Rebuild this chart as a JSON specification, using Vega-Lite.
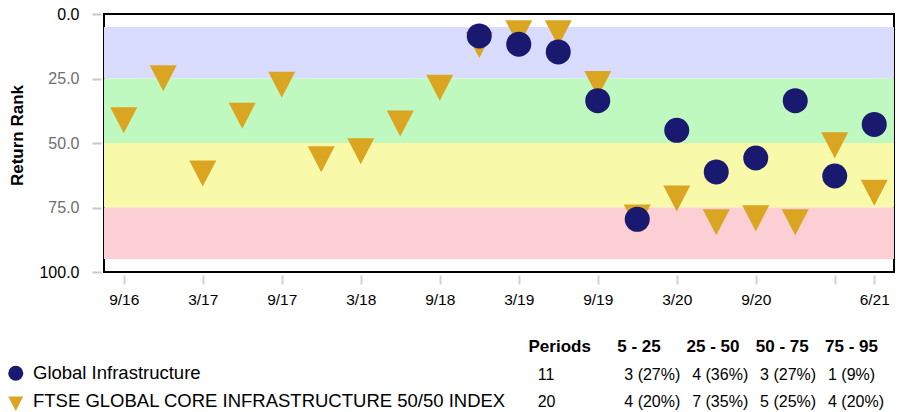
{
  "$schema": "https://vega.github.io/schema/vega-lite/v6.json",
  "width": 790,
  "height": 258,
  "autosize": {"type": "none"},
  "padding": {"left": 104, "top": 14, "right": 4, "bottom": 140},
  "background": "white",
  "config": {
    "font": "Liberation Sans",
    "view": {"stroke": "#000000", "strokeWidth": 2}
  },
  "datasets": {
    "bands": [
      {"band": "5 - 25", "lo": 5, "hi": 25},
      {"band": "25 - 50", "lo": 25, "hi": 50},
      {"band": "50 - 75", "lo": 50, "hi": 75},
      {"band": "75 - 95", "lo": 75, "hi": 95}
    ],
    "ranks": [
      {"series": "FTSE GLOBAL CORE INFRASTRUCTURE 50/50 INDEX", "quarter": "9/16", "rank": 39.5},
      {"series": "FTSE GLOBAL CORE INFRASTRUCTURE 50/50 INDEX", "quarter": "12/16", "rank": 23.2},
      {"series": "FTSE GLOBAL CORE INFRASTRUCTURE 50/50 INDEX", "quarter": "3/17", "rank": 60.1},
      {"series": "FTSE GLOBAL CORE INFRASTRUCTURE 50/50 INDEX", "quarter": "6/17", "rank": 37.8},
      {"series": "FTSE GLOBAL CORE INFRASTRUCTURE 50/50 INDEX", "quarter": "9/17", "rank": 25.7},
      {"series": "FTSE GLOBAL CORE INFRASTRUCTURE 50/50 INDEX", "quarter": "12/17", "rank": 54.6},
      {"series": "FTSE GLOBAL CORE INFRASTRUCTURE 50/50 INDEX", "quarter": "3/18", "rank": 51.5},
      {"series": "FTSE GLOBAL CORE INFRASTRUCTURE 50/50 INDEX", "quarter": "6/18", "rank": 40.8},
      {"series": "FTSE GLOBAL CORE INFRASTRUCTURE 50/50 INDEX", "quarter": "9/18", "rank": 26.9},
      {"series": "FTSE GLOBAL CORE INFRASTRUCTURE 50/50 INDEX", "quarter": "12/18", "rank": 10.3},
      {"series": "FTSE GLOBAL CORE INFRASTRUCTURE 50/50 INDEX", "quarter": "3/19", "rank": 5.8},
      {"series": "FTSE GLOBAL CORE INFRASTRUCTURE 50/50 INDEX", "quarter": "6/19", "rank": 5.8},
      {"series": "FTSE GLOBAL CORE INFRASTRUCTURE 50/50 INDEX", "quarter": "9/19", "rank": 25.5},
      {"series": "FTSE GLOBAL CORE INFRASTRUCTURE 50/50 INDEX", "quarter": "12/19", "rank": 77.2},
      {"series": "FTSE GLOBAL CORE INFRASTRUCTURE 50/50 INDEX", "quarter": "3/20", "rank": 69.8},
      {"series": "FTSE GLOBAL CORE INFRASTRUCTURE 50/50 INDEX", "quarter": "6/20", "rank": 79.0},
      {"series": "FTSE GLOBAL CORE INFRASTRUCTURE 50/50 INDEX", "quarter": "9/20", "rank": 77.5},
      {"series": "FTSE GLOBAL CORE INFRASTRUCTURE 50/50 INDEX", "quarter": "12/20", "rank": 79.0},
      {"series": "FTSE GLOBAL CORE INFRASTRUCTURE 50/50 INDEX", "quarter": "3/21", "rank": 49.2},
      {"series": "FTSE GLOBAL CORE INFRASTRUCTURE 50/50 INDEX", "quarter": "6/21", "rank": 67.6},
      {"series": "Global Infrastructure", "quarter": "12/18", "rank": 8.5},
      {"series": "Global Infrastructure", "quarter": "3/19", "rank": 11.7},
      {"series": "Global Infrastructure", "quarter": "6/19", "rank": 14.7},
      {"series": "Global Infrastructure", "quarter": "9/19", "rank": 33.6},
      {"series": "Global Infrastructure", "quarter": "12/19", "rank": 79.6},
      {"series": "Global Infrastructure", "quarter": "3/20", "rank": 45.1},
      {"series": "Global Infrastructure", "quarter": "6/20", "rank": 61.2},
      {"series": "Global Infrastructure", "quarter": "9/20", "rank": 55.8},
      {"series": "Global Infrastructure", "quarter": "12/20", "rank": 33.6},
      {"series": "Global Infrastructure", "quarter": "3/21", "rank": 62.8},
      {"series": "Global Infrastructure", "quarter": "6/21", "rank": 42.8}
    ],
    "headers": [
      {"row": "header", "col": "Periods", "text": "Periods"},
      {"row": "header", "col": "5 - 25", "text": "5 - 25"},
      {"row": "header", "col": "25 - 50", "text": "25 - 50"},
      {"row": "header", "col": "50 - 75", "text": "50 - 75"},
      {"row": "header", "col": "75 - 95", "text": "75 - 95"}
    ],
    "cells": [
      {"row": "Global Infrastructure", "col": "Periods", "text": "11"},
      {"row": "Global Infrastructure", "col": "5 - 25", "text": "3 (27%)"},
      {"row": "Global Infrastructure", "col": "25 - 50", "text": "4 (36%)"},
      {"row": "Global Infrastructure", "col": "50 - 75", "text": "3 (27%)"},
      {"row": "Global Infrastructure", "col": "75 - 95", "text": "1 (9%)"},
      {"row": "FTSE GLOBAL CORE INFRASTRUCTURE 50/50 INDEX", "col": "Periods", "text": "20"},
      {"row": "FTSE GLOBAL CORE INFRASTRUCTURE 50/50 INDEX", "col": "5 - 25", "text": "4 (20%)"},
      {"row": "FTSE GLOBAL CORE INFRASTRUCTURE 50/50 INDEX", "col": "25 - 50", "text": "7 (35%)"},
      {"row": "FTSE GLOBAL CORE INFRASTRUCTURE 50/50 INDEX", "col": "50 - 75", "text": "5 (25%)"},
      {"row": "FTSE GLOBAL CORE INFRASTRUCTURE 50/50 INDEX", "col": "75 - 95", "text": "4 (20%)"}
    ]
  },
  "layer": [
    {
      "layer": [
        {
          "data": {"name": "bands"},
          "mark": {"type": "rect"},
          "encoding": {
            "y": {
              "field": "lo", "type": "quantitative", "title": "Return Rank",
              "scale": {"domain": [0, 100], "reverse": true, "nice": false, "zero": false},
              "axis": {
                "values": [0, 25, 50, 75, 100],
                "format": ".1f",
                "labelFontSize": 16,
                "labelColor": {"condition": {"test": "datum.value == 0 || datum.value == 100", "value": "#000000"}, "value": "#6e6e6e"},
                "ticks": true,
                "tickColor": "#c8c8c8",
                "tickWidth": 2,
                "tickSize": 9,
                "offset": 3,
                "labelPadding": 13,
                "domain": false,
                "grid": false,
                "titleFontSize": 17,
                "titleFontWeight": "bold",
                "titleColor": "#000000",
                "titlePadding": 12,
                "titleY": 121
              }
            },
            "y2": {"field": "hi"},
            "fill": {
              "field": "band", "type": "nominal",
              "scale": {"domain": ["5 - 25", "25 - 50", "50 - 75", "75 - 95"], "range": ["#d9dcff", "#bff9bf", "#f9f9aa", "#fbcfd3"]},
              "legend": null
            }
          }
        },
        {
          "data": {"name": "ranks"},
          "transform": [{"filter": "datum.series != 'Global Infrastructure'"}],
          "mark": {"type": "point", "filled": true, "opacity": 1, "strokeWidth": 0, "size": 729},
          "encoding": {
            "x": {
              "field": "quarter", "type": "ordinal",
              "scale": {"type": "point", "padding": 0.5, "domain": ["9/16", "12/16", "3/17", "6/17", "9/17", "12/17", "3/18", "6/18", "9/18", "12/18", "3/19", "6/19", "9/19", "12/19", "3/20", "6/20", "9/20", "12/20", "3/21", "6/21"]},
              "axis": {
                "title": null,
                "values": ["9/16", "3/17", "9/17", "3/18", "9/18", "3/19", "9/19", "3/20", "9/20", "3/21", "6/21"],
                "labelExpr": "datum.value == '3/21' ? '' : datum.value",
                "labelAngle": 0,
                "labelFontSize": 15.5,
                "labelColor": "#000000",
                "labelPadding": 8,
                "tickSize": 9,
                "tickWidth": 2,
                "tickColor": "#d0d0d0",
                "offset": 3,
                "domain": false,
                "grid": false
              }
            },
            "y": {
              "field": "rank", "type": "quantitative", "title": "Return Rank",
              "scale": {"domain": [0, 100], "reverse": true, "nice": false, "zero": false}
            },
            "color": {
              "field": "series", "type": "nominal",
              "scale": {"domain": ["Global Infrastructure", "FTSE GLOBAL CORE INFRASTRUCTURE 50/50 INDEX"], "range": ["#191970", "#daa520"]},
              "legend": {
                "title": null,
                "orient": "none",
                "legendX": -97.5,
                "legendY": 350,
                "direction": "vertical",
                "labelFontSize": 18.5,
                "labelColor": "#000000",
                "labelLimit": 700,
                "labelOffset": 8,
                "symbolSize": 225,
                "symbolStrokeWidth": 0,
                "symbolOpacity": 1,
                "rowPadding": 9,
                "padding": 0
              }
            },
            "shape": {
              "field": "series", "type": "nominal",
              "scale": {"domain": ["Global Infrastructure", "FTSE GLOBAL CORE INFRASTRUCTURE 50/50 INDEX"], "range": ["circle", "M-1,-0.642L1,-0.642L0,1.284Z"]}
            }
          }
        },
        {
          "data": {"name": "ranks"},
          "transform": [{"filter": "datum.series == 'Global Infrastructure'"}],
          "mark": {"type": "point", "filled": true, "opacity": 1, "strokeWidth": 0, "size": 625},
          "encoding": {
            "x": {
              "field": "quarter", "type": "ordinal",
              "scale": {"type": "point", "padding": 0.5, "domain": ["9/16", "12/16", "3/17", "6/17", "9/17", "12/17", "3/18", "6/18", "9/18", "12/18", "3/19", "6/19", "9/19", "12/19", "3/20", "6/20", "9/20", "12/20", "3/21", "6/21"]}
            },
            "y": {
              "field": "rank", "type": "quantitative", "title": "Return Rank",
              "scale": {"domain": [0, 100], "reverse": true, "nice": false, "zero": false}
            },
            "color": {
              "field": "series", "type": "nominal",
              "scale": {"domain": ["Global Infrastructure", "FTSE GLOBAL CORE INFRASTRUCTURE 50/50 INDEX"], "range": ["#191970", "#daa520"]}
            },
            "shape": {
              "field": "series", "type": "nominal",
              "scale": {"domain": ["Global Infrastructure", "FTSE GLOBAL CORE INFRASTRUCTURE 50/50 INDEX"], "range": ["circle", "M-1,-0.642L1,-0.642L0,1.284Z"]}
            }
          }
        }
      ]
    },
    {
      "layer": [
        {
          "data": {"name": "headers"},
          "transform": [{"filter": "datum.col == 'Periods'"}],
          "mark": {"type": "text", "align": "left", "baseline": "alphabetic", "fontSize": 17, "fontWeight": "bold", "color": "#000000"},
          "encoding": {
            "x": {"field": "col", "type": "nominal", "scale": {"type": "point", "domain": ["Periods"], "range": [424.5, 424.5], "padding": 0}, "axis": null},
            "y": {"field": "row", "type": "nominal", "scale": {"type": "point", "domain": ["header", "Global Infrastructure", "FTSE GLOBAL CORE INFRASTRUCTURE 50/50 INDEX"], "range": [338, 393], "padding": 0}, "axis": null},
            "text": {"field": "text"}
          }
        },
        {
          "data": {"name": "headers"},
          "transform": [{"filter": "datum.col != 'Periods'"}],
          "mark": {"type": "text", "align": "left", "baseline": "alphabetic", "fontSize": 17, "fontWeight": "bold", "color": "#000000"},
          "encoding": {
            "x": {"field": "col", "type": "nominal", "scale": {"type": "point", "domain": ["5 - 25", "25 - 50", "50 - 75", "75 - 95"], "range": [513.3, 721], "padding": 0}, "axis": null},
            "y": {"field": "row", "type": "nominal", "scale": {"type": "point", "domain": ["header", "Global Infrastructure", "FTSE GLOBAL CORE INFRASTRUCTURE 50/50 INDEX"], "range": [338, 393], "padding": 0}, "axis": null},
            "text": {"field": "text"}
          }
        },
        {
          "data": {"name": "cells"},
          "transform": [{"filter": "datum.col == 'Periods'"}],
          "mark": {"type": "text", "align": "left", "baseline": "alphabetic", "fontSize": 16, "color": "#000000"},
          "encoding": {
            "x": {"field": "col", "type": "nominal", "scale": {"type": "point", "domain": ["Periods"], "range": [433.7, 433.7], "padding": 0}, "axis": null},
            "y": {"field": "row", "type": "nominal", "scale": {"type": "point", "domain": ["header", "Global Infrastructure", "FTSE GLOBAL CORE INFRASTRUCTURE 50/50 INDEX"], "range": [338, 393], "padding": 0}, "axis": null},
            "text": {"field": "text"}
          }
        },
        {
          "data": {"name": "cells"},
          "transform": [{"filter": "datum.col != 'Periods'"}],
          "mark": {"type": "text", "align": "left", "baseline": "alphabetic", "fontSize": 16, "color": "#000000"},
          "encoding": {
            "x": {"field": "col", "type": "nominal", "scale": {"type": "point", "domain": ["5 - 25", "25 - 50", "50 - 75", "75 - 95"], "range": [520.3, 724], "padding": 0}, "axis": null},
            "y": {"field": "row", "type": "nominal", "scale": {"type": "point", "domain": ["header", "Global Infrastructure", "FTSE GLOBAL CORE INFRASTRUCTURE 50/50 INDEX"], "range": [338, 393], "padding": 0}, "axis": null},
            "text": {"field": "text"}
          }
        }
      ],
      "resolve": {"scale": {"x": "independent"}}
    }
  ],
  "resolve": {"scale": {"x": "independent", "y": "independent"}}
}
